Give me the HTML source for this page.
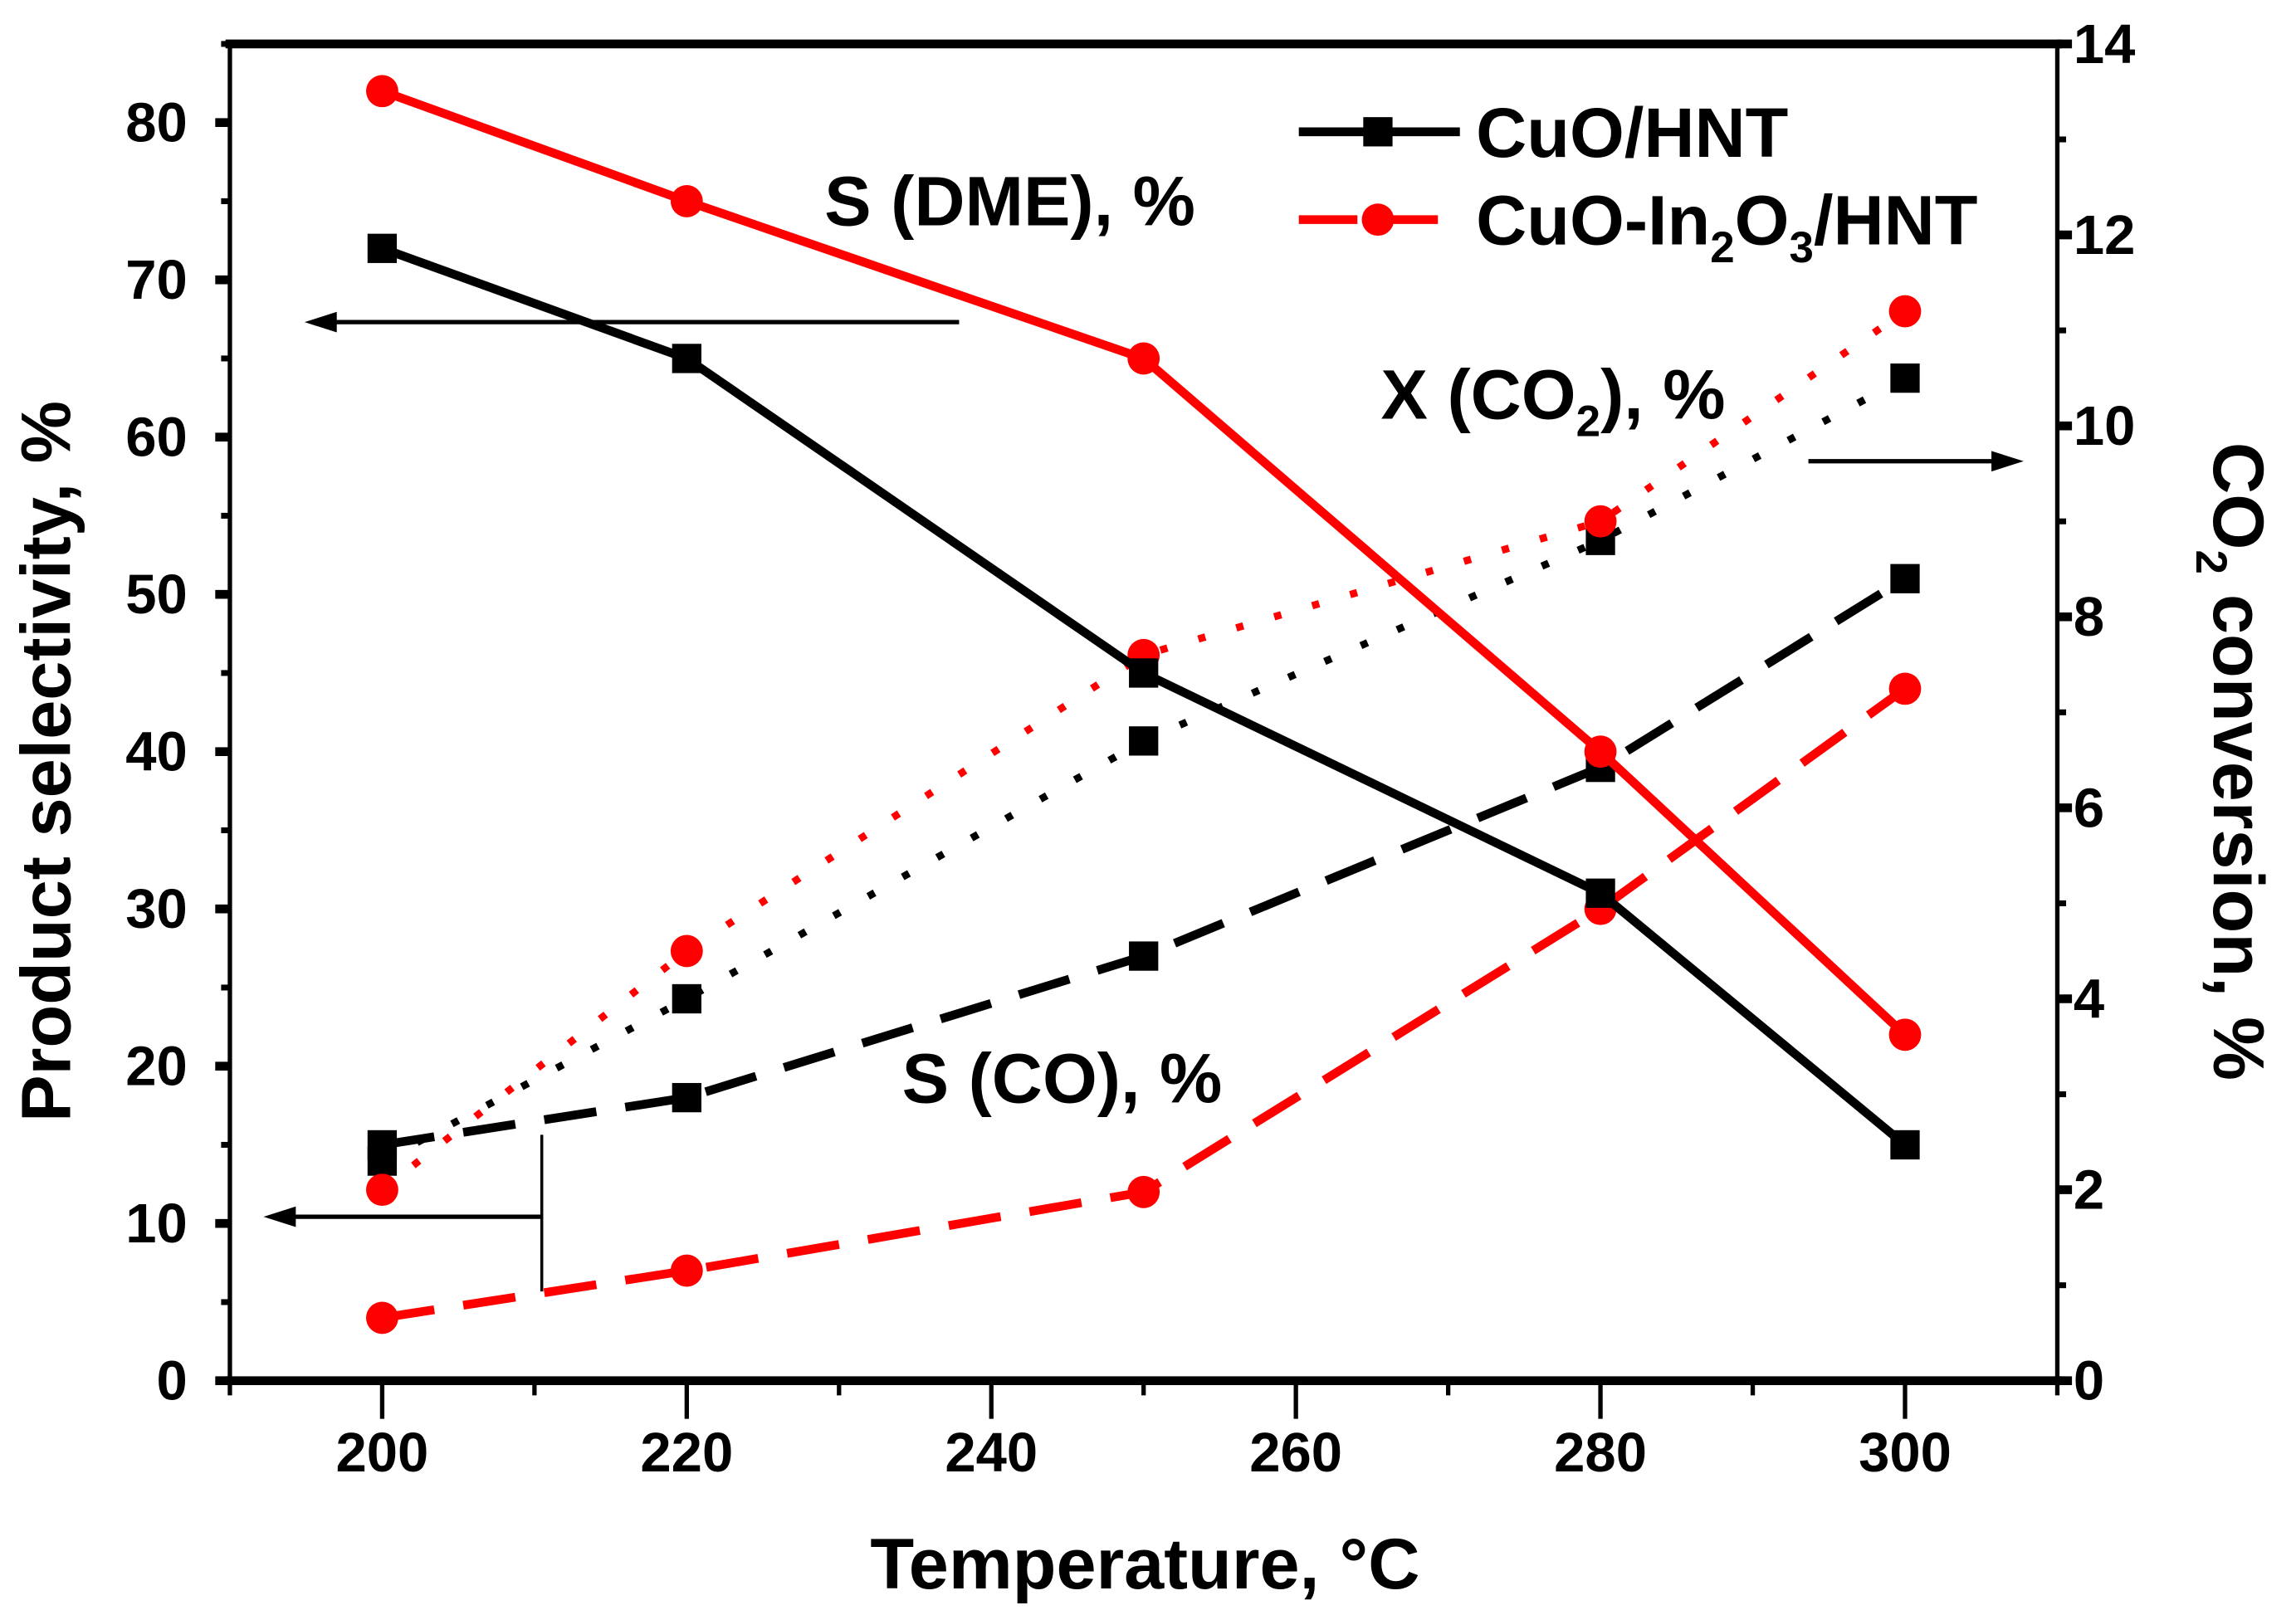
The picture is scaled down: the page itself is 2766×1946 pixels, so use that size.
<!DOCTYPE html>
<html><head><meta charset="utf-8"><style>
html,body{margin:0;padding:0;background:#fff}
svg{display:block}
text{font-family:"Liberation Sans",sans-serif;font-weight:bold}
</style></head><body>
<svg id="chart" width="2766" height="1946" viewBox="0 0 1568 1103" preserveAspectRatio="none" xmlns="http://www.w3.org/2000/svg">
<g id="plot"></g>
</svg>
<script>
const temps=[200,220,250,280,300];
const dmeCuO=[72,65,45,31,15];
const dmeIn=[82,75,65,40,22];
const coCuO=[15,18,27,39,51];
const coIn=[4,7,12,30,44];
const convCuO=[2.3,4.0,6.7,8.8,10.5];
const convIn=[2.0,4.5,7.6,9.0,11.2];
const xTicks=[200,220,240,260,280,300];
const yTicks=[0,10,20,30,40,50,60,70,80];
const y2Ticks=[0,2,4,6,8,10,12,14];

const L=157,R=1405,T=30,B=943;
const X=v=>L+(v-190)/120*(R-L);
const Y=v=>B-v/85*(B-T);
const Y2=v=>B-v/14*(B-T);
const NS='http://www.w3.org/2000/svg';
const g=document.getElementById('plot');
function mk(tag,attrs,parent){const e=document.createElementNS(NS,tag);for(const k in attrs)e.setAttribute(k,attrs[k]);(parent||g).appendChild(e);return e;}

let e;
e=mk('rect',{x:L,y:T,width:R-L,height:B-T,fill:'none',stroke:'#000','stroke-width':3});


e=mk('line',{x1:L-3,y1:B,x2:R+3,y2:B,stroke:'#000','stroke-width':6});


e=mk('line',{x1:L-3,y1:T,x2:R+3,y2:T,stroke:'#000','stroke-width':6});



for(let v=190;v<=310;v+=10){
  const major=xTicks.includes(v);
  e=mk('line',{x1:X(v),y1:B,x2:X(v),y2:B+(major?26:10),stroke:'#000','stroke-width':3});
  
  
}
xTicks.forEach(v=>{
  e=mk('text',{x:X(v),y:1005,'font-size':38,'text-anchor':'middle'});e.textContent=v;
  
  
});
for(let v=0;v<=85;v+=5){
  const major=v%10===0;
  e=mk('line',{x1:L,y1:Y(v),x2:L-(major?10:6),y2:Y(v),stroke:'#000','stroke-width':major?6:4});
  
  
}
yTicks.forEach(v=>{
  e=mk('text',{x:128,y:Y(v)+13,'font-size':38,'text-anchor':'end'});e.textContent=v;
  
  
});
for(let v=0;v<=14;v+=1){
  const major=v%2===0;
  e=mk('line',{x1:R,y1:Y2(v),x2:R+(major?10:6),y2:Y2(v),stroke:'#000','stroke-width':major?6:4});
  
  
}
y2Ticks.forEach(v=>{
  e=mk('text',{x:1416,y:Y2(v)+13,'font-size':38,'text-anchor':'start'});e.textContent=v;
  
  
});

e=mk('text',{x:782,y:1085,'font-size':49,'text-anchor':'middle'});e.textContent='Temperature, °C';


e=mk('text',{x:0,y:0,'font-size':48,'text-anchor':'middle',transform:'translate(48,520) rotate(-90)'});e.textContent='Product selectivity, %';


e=mk('text',{x:0,y:0,'font-size':49,'text-anchor':'middle',transform:'translate(1512,520) rotate(90)'});
e.innerHTML='CO<tspan font-size="30" dy="12">2</tspan><tspan dy="-12"> conversion, %</tspan>';



function series(vals,yf,color,dash,marker,name){
  const pts=temps.map((t,i)=>X(t)+','+yf(vals[i])).join(' ');
  let p=mk('polyline',{points:pts,fill:'none',stroke:color,'stroke-width':dash==='dot'?5:6,'stroke-dasharray':dash==='dash'?'36,20':dash==='dot'?'5,22':'none'});
  
  
  vals.forEach((v,i)=>{
    let m;
    if(marker==='sq') m=mk('rect',{x:X(temps[i])-10,y:yf(v)-10,width:20,height:20,fill:color});
    else m=mk('circle',{cx:X(temps[i]),cy:yf(v),r:11,fill:color});
    
    
  });
}
series(convCuO,Y2,'#000','dot','sq','conversion-cuo');
series(convIn,Y2,'#f00','dot','ci','conversion-cuo-in2o3');
series(coCuO,Y,'#000','dash','sq','s-co-cuo');
series(coIn,Y,'#f00','dash','ci','s-co-cuo-in2o3');
series(dmeCuO,Y,'#000','solid','sq','s-dme-cuo');
series(dmeIn,Y,'#f00','solid','ci','s-dme-cuo-in2o3');

function txt(x,y,s,n,html){e=mk('text',{x:x,y:y,'font-size':48});if(html)e.innerHTML=s;else e.textContent=s;
  
  }
txt(563,154,'S (DME), %','label-s-dme');
txt(943,286,'X (CO<tspan font-size="30" dy="12">2</tspan><tspan dy="-12">), %</tspan>','label-x-co2',true);
txt(616,753,'S (CO), %','label-s-co');
function arrow(x1,y1,x2,n){
  const dir=x2<x1?1:-1;
  e=mk('g',{});
  mk('line',{x1:x1,y1:y1,x2:x2+dir*12,y2:y1,stroke:'#000','stroke-width':3},e);
  mk('polygon',{points:`${x2},${y1} ${x2+dir*22},${y1-7} ${x2+dir*22},${y1+7}`,fill:'#000'},e);
  
  
}
arrow(655,220,208,'arrow-dme-left');
arrow(370,831,180,'arrow-co-left');
e=mk('line',{x1:370,y1:775,x2:370,y2:882,stroke:'#000','stroke-width':2});


arrow(1235,315,1382,'arrow-conversion-right');

e=mk('g',{});


let le=mk('g',{},e);


mk('line',{x1:887,y1:90,x2:997,y2:90,stroke:'#000','stroke-width':6},le);
mk('rect',{x:931,y:80,width:20,height:20,fill:'#000'},le);
let lt=mk('text',{x:1008,y:107,'font-size':48},le);lt.textContent='CuO/HNT';
le=mk('g',{},e);


mk('line',{x1:887,y1:150,x2:997,y2:150,stroke:'#f00','stroke-width':6,'stroke-dasharray':'40,15'},le);
mk('circle',{cx:941,cy:150,r:11,fill:'#f00'},le);
lt=mk('text',{x:1008,y:167,'font-size':48},le);
lt.innerHTML='CuO-In<tspan font-size="30" dy="12">2</tspan><tspan dy="-12">O</tspan><tspan font-size="30" dy="12">3</tspan><tspan dy="-12">/HNT</tspan>';
</script>
</body></html>
